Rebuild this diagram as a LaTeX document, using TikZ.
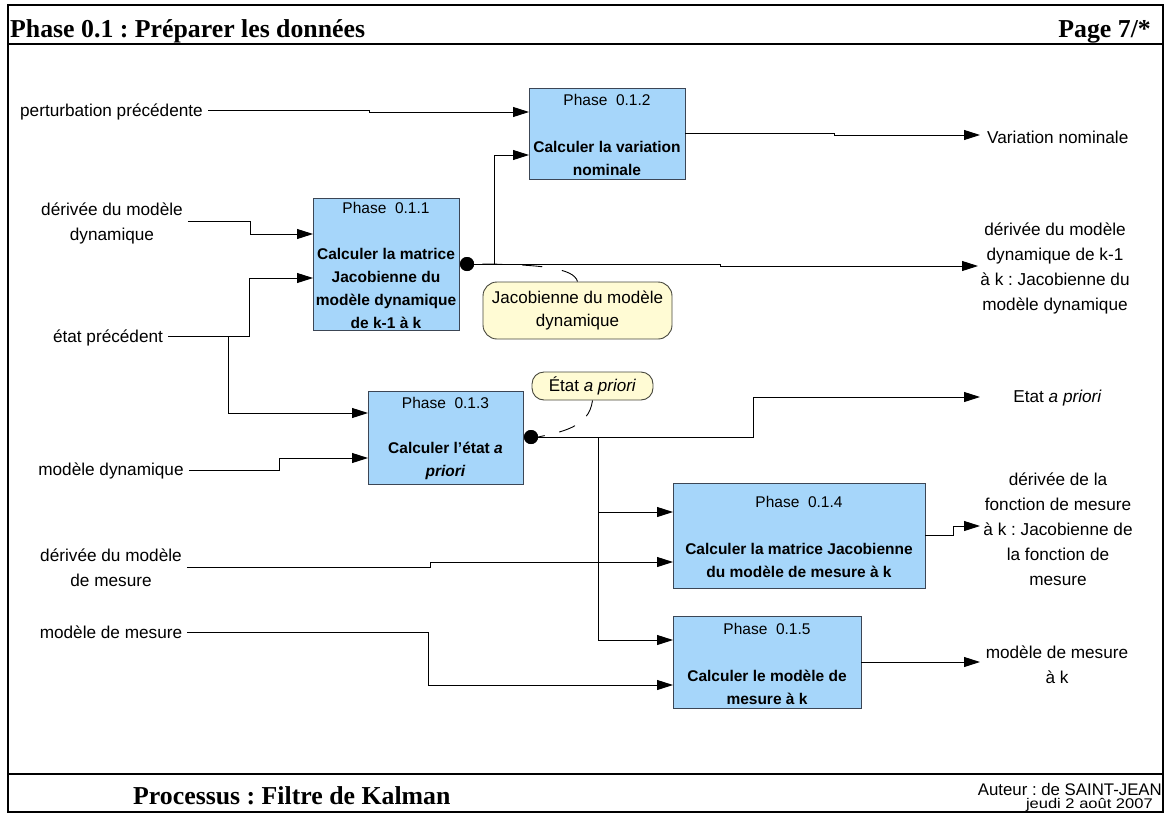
\documentclass[tikz,border=0pt]{standalone}
\usepackage{fontspec}
\setmainfont{Liberation Sans}
\newfontfamily\serifface{Liberation Serif}
\usetikzlibrary{arrows.meta}
\frenchspacing
\definecolor{boxfill}{RGB}{166,214,250}
\definecolor{boxedge}{RGB}{60,70,85}
\definecolor{notefill}{RGB}{255,251,212}
\definecolor{noteedge}{RGB}{70,70,60}
\tikzset{
  lab/.style={font=\fontsize{17.2}{25}\selectfont, align=center, inner xsep=5pt, inner ysep=0pt},
  wire/.style={line width=0.9pt, draw=black},
  arr/.style={wire, -{Triangle[length=16pt,width=10pt]}},
  proc/.style={draw=boxedge, fill=boxfill, line width=0.9pt, rectangle, inner sep=0pt, outer sep=0pt},
  ph/.style={font=\fontsize{15.5}{18}\selectfont, inner sep=0pt},
  ttl/.style={font=\fontsize{15.5}{23}\selectfont\bfseries, align=center, inner sep=0pt},
  note/.style={draw=noteedge, fill=notefill, rounded corners=14pt, line width=0.9pt, inner sep=0pt, align=center, font=\fontsize{17}{24}\selectfont},
  dot/.style={circle, fill=black, inner sep=0pt, minimum size=14pt},
  dsh/.style={line width=0.9pt, dash pattern=on 20pt off 20pt},
  frame/.style={line width=2pt},
  head/.style={font=\serifface\bfseries\fontsize{25.8}{28}\selectfont, inner sep=0pt},
}
\begin{document}
\begin{tikzpicture}[x=1pt,y=-1pt]
\useasboundingbox (0,0) rectangle (1167,814);
% frame
\draw[frame] (8,5) rectangle (1163,812);
\draw[frame] (8,44) -- (1163,44);
\draw[frame] (8,774) -- (1163,774);
\node[head, anchor=base west] (title) at (10,37) {Phase 0.1 : Préparer les données};
\node[head, anchor=base east] (page) at (1151,37) {Page 7/*};
\node[head, anchor=base west] (proc) at (133,804) {Processus : Filtre de Kalman};
\node[inner sep=0pt, anchor=base east, font=\fontsize{16.8}{18}\selectfont] (auth) at (1162,795) {Auteur : de SAINT-JEAN};
\node[inner sep=0pt, anchor=base east, font=\fontsize{14}{15}\selectfont, xscale=1.18] (date) at (1153,808) {jeudi 2 août 2007};

% process boxes
\node[proc, minimum width=146, minimum height=132] (b1) at (386,264) {};
\node[proc, minimum width=156, minimum height=91] (b2) at (607,133.5) {};
\node[proc, minimum width=155, minimum height=93] (b3) at (445.5,437.5) {};
\node[proc, minimum width=252, minimum height=105] (b4) at (799,535.5) {};
\node[proc, minimum width=188, minimum height=92] (b5) at (767,662) {};

\node[ph] (p1) at (386,208) {Phase\ \ 0.1.1};
\node[ph] (p2) at (607,100) {Phase\ \ 0.1.2};
\node[ph] (p3) at (445.5,403) {Phase\ \ 0.1.3};
\node[ph] (p4) at (799,502) {Phase\ \ 0.1.4};
\node[ph] (p5) at (767,629) {Phase\ \ 0.1.5};

\node[ttl] (t1) at (386,288.5) {Calculer la matrice\\Jacobienne du\\modèle dynamique\\de k-1 à k};
\node[ttl] (t2) at (607,158.5) {Calculer la variation\\nominale};
\node[ttl] (t3) at (445.5,460.5) {Calculer l'état \textit{a}\\\textit{priori}};
\node[ttl] (t4) at (799,560.5) {Calculer la matrice Jacobienne\\du modèle de mesure à k};
\node[ttl] (t5) at (767,687.5) {Calculer le modèle de\\mesure à k};

% inputs
\node[lab] (in1) at (111.5,112) {perturbation précédente};
\node[lab] (in2) at (112,223.5) {dérivée du modèle\\dynamique};
\node[lab] (in3) at (108,338) {état précédent};
\node[lab] (in4) at (111,471) {modèle dynamique};
\node[lab] (in5) at (111,568) {dérivée du modèle\\de mesure};
\node[lab] (in6) at (111,632) {modèle de mesure};

% outputs
\node[lab, anchor=west, inner xsep=0pt] (out1) at (987,137) {Variation nominale};
\node[lab] (out2) at (1055,268) {dérivée du modèle\\dynamique de k-1\\à k : Jacobienne du\\modèle dynamique};
\node[lab] (out3) at (1057.5,398) {Etat \textit{a priori}};
\node[lab] (out4) at (1058,529) {dérivée de la\\fonction de mesure\\à k : Jacobienne de\\la fonction de\\mesure};
\node[lab] (out5) at (1057,664.5) {modèle de mesure\\à k};

\coordinate (e1) at (980,135);
\coordinate (e2) at (978,266);
\coordinate (e3) at (980,397);
\coordinate (e4) at (980,526);
\coordinate (e5) at (980,662);

% dots
\node[dot] (d1) at (467,264) {};
\node[dot] (d2) at (531,437) {};

% connectors
\draw[arr] (in1.east |- 0,110) -- (369,110) -- (369,112) -- (b2.west |- 0,112);
\draw[arr] (d1.center) -- (494,264) -- (494,155) -- (b2.west |- 0,155);
\draw[arr] (d1.center) -- (720,264) -- (720,266) -- (e2);
\draw[arr] (in2.east |- 0,221) -- (250,221) -- (250,234) -- (b1.west |- 0,234);
\draw[arr] (in3.east |- 0,336) -- (249,336) -- (249,278) -- (b1.west |- 0,278);
\draw[arr] (in3.east |- 0,336) -- (228,336) -- (228,413) -- (b3.west |- 0,413);
\draw[arr] (in4.east |- 0,470) -- (279,470) -- (279,458) -- (b3.west |- 0,458);
\draw[arr] (b2.east |- 0,133) -- (834,133) -- (834,135) -- (e1);
\draw[arr] (d2.center) -- (753,437) -- (753,397) -- (e3);
\draw[arr] (d2.center) -- (598,437) -- (598,512) -- (b4.west |- 0,512);
\draw[arr] (d2.center) -- (598,437) -- (598,640) -- (b5.west |- 0,640);
\draw[arr] (in5.east |- 0,567) -- (430,567) -- (430,562) -- (b4.west |- 0,562);
\draw[arr] (in6.east |- 0,632) -- (428,632) -- (428,685) -- (b5.west |- 0,685);
\draw[arr] (b4.east |- 0,535) -- (953,535) -- (953,526) -- (e4);
\draw[arr] (b5.east |- 0,662) -- (e5);

\node[dot] at (d1) {};
\node[dot] at (d2) {};

% notes
\node[note, minimum width=189, minimum height=57] (n1) at (577.5,310.5) {Jacobienne du modèle\\dynamique};
\node[note, minimum width=121, minimum height=28, rounded corners=12pt] (n2) at (592.5,386) {État \textit{a priori}};
\draw[dsh] (n1.north) .. controls (574,268) and (540,264) .. (d1.east);
\draw[dsh, dash pattern=on 17pt off 15pt] (n2.south) .. controls (589,428) and (560,432) .. (d2.east);
\end{tikzpicture}
\end{document}
